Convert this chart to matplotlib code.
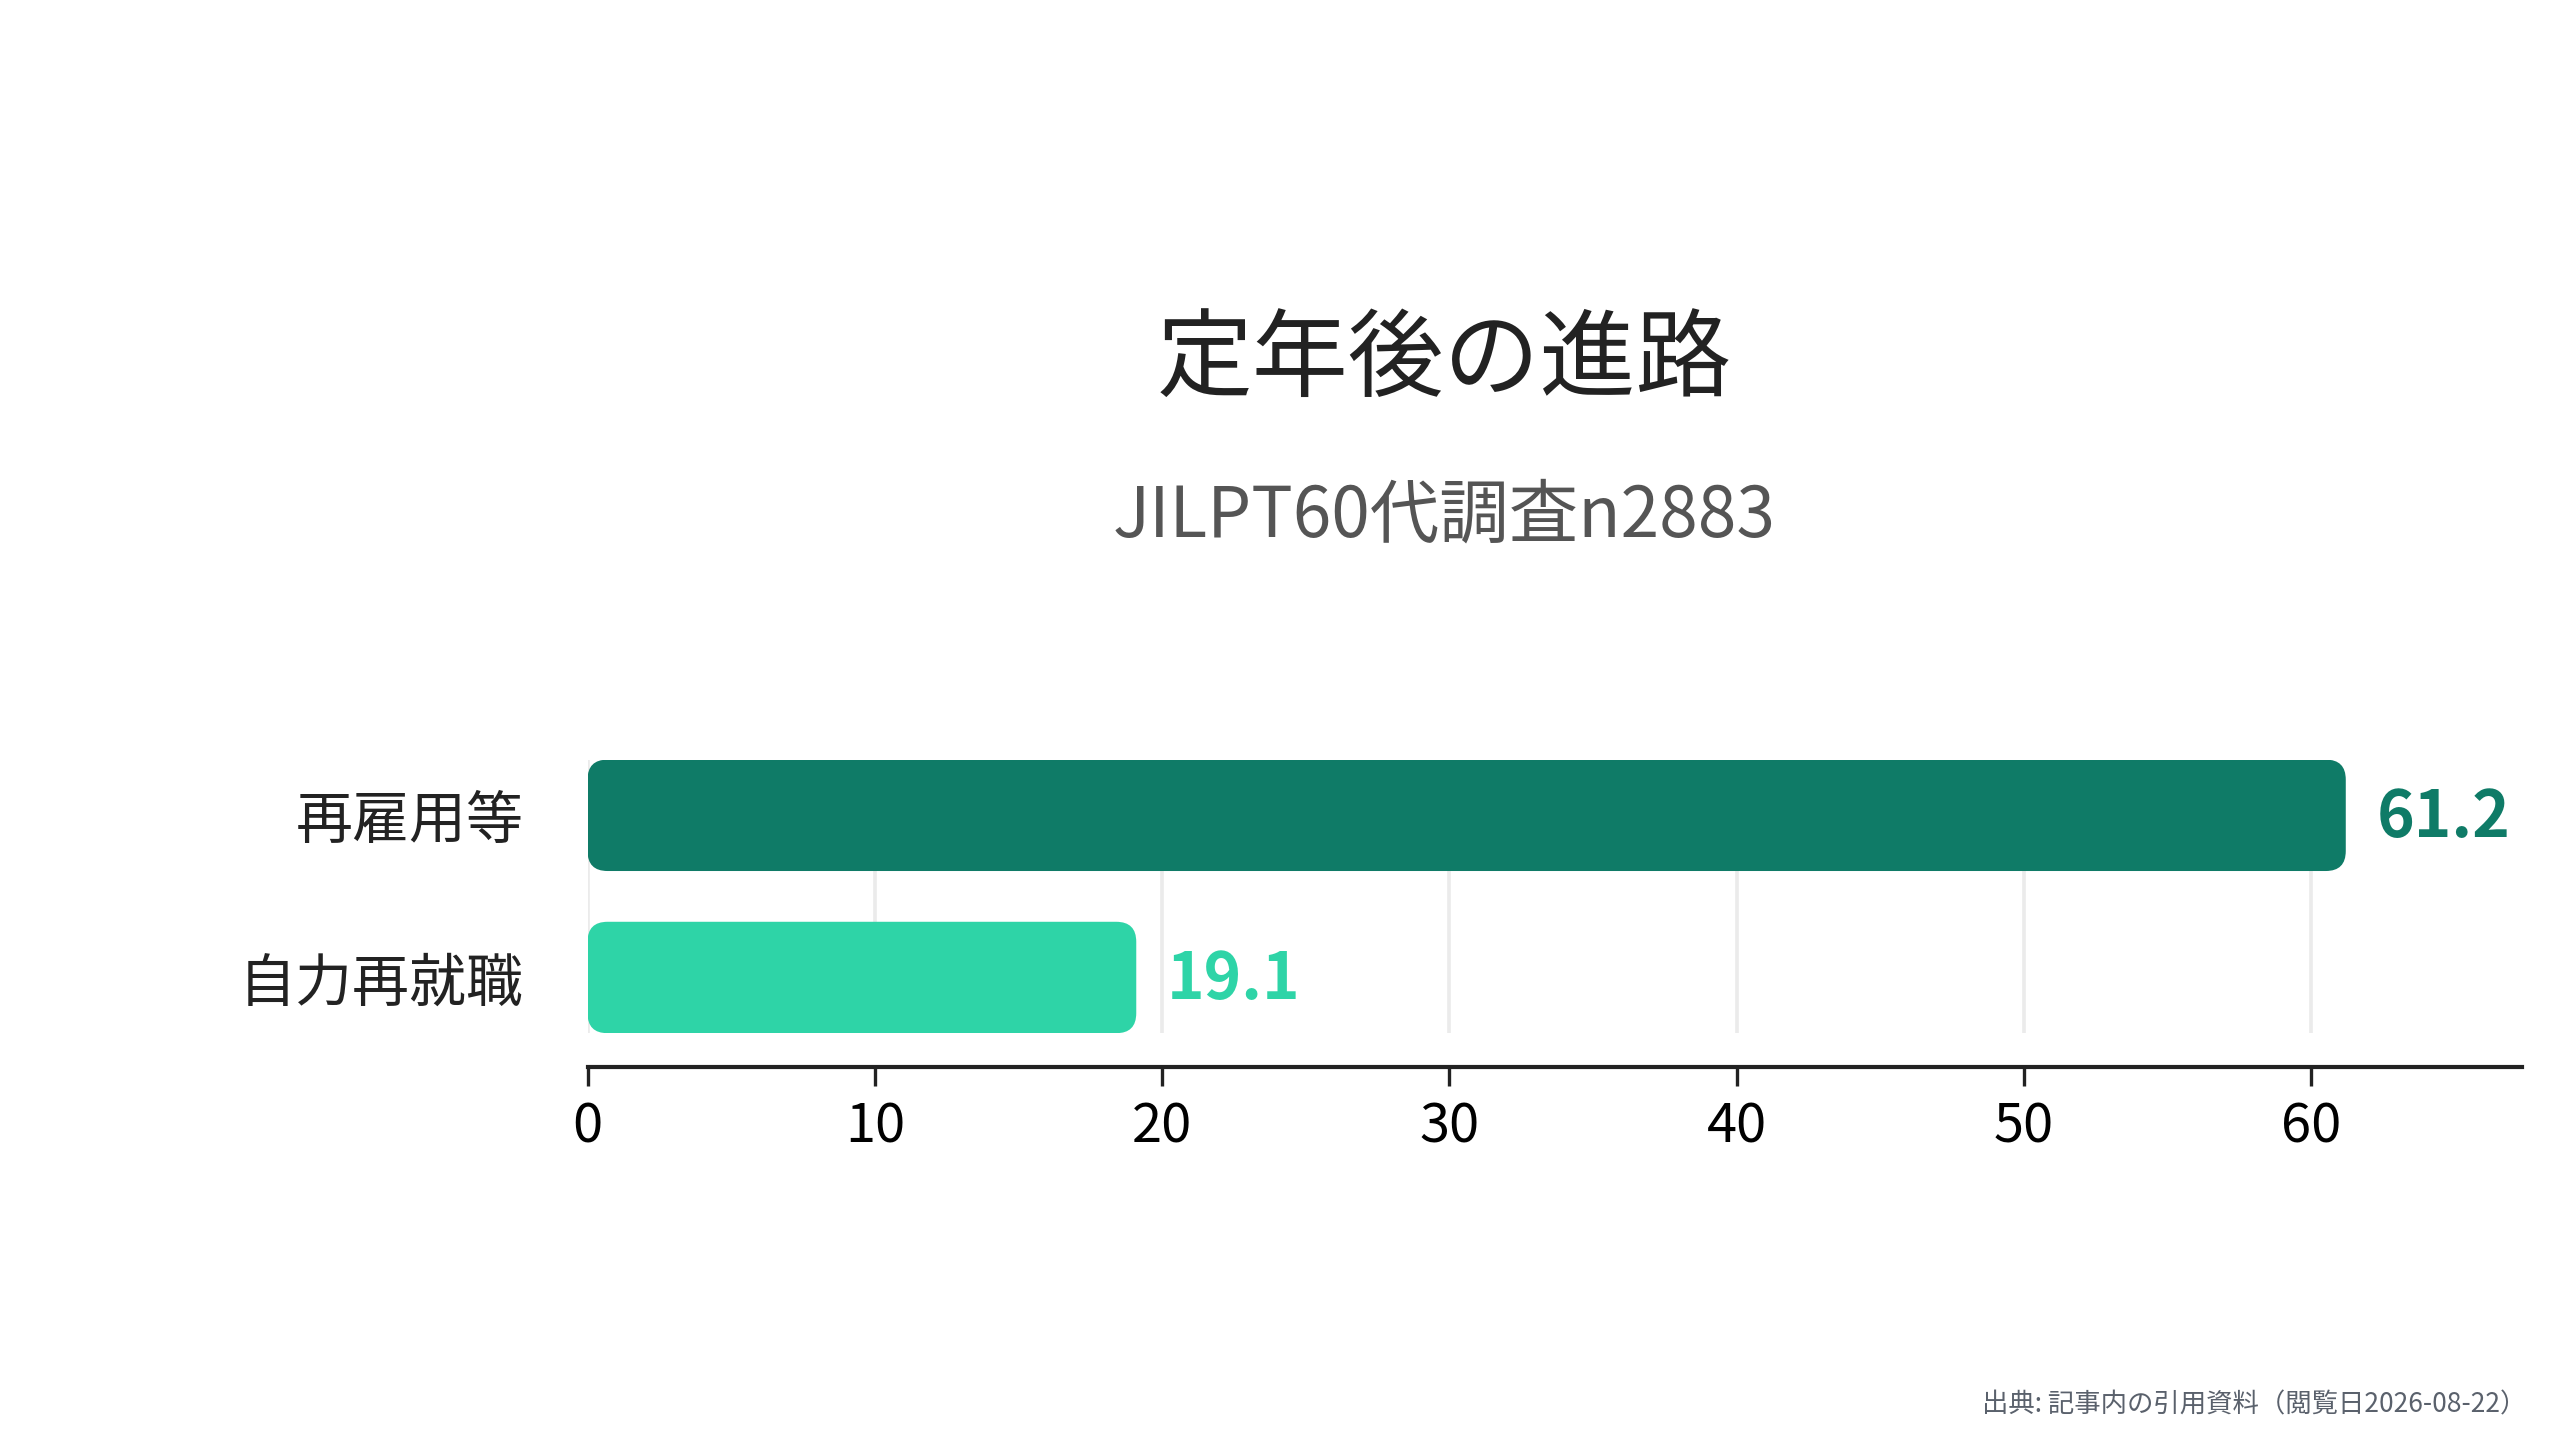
import matplotlib
matplotlib.use("Agg")
import matplotlib.pyplot as plt
from matplotlib.patches import FancyBboxPatch

plt.rcParams['font.family'] = ['Noto Sans CJK JP', 'DejaVu Sans']

# data
categories = ["再雇用等", "自力再就職"]
values = [61.2, 19.1]
bar_colors = ["#0f7b67", "#2ed4a7"]
xticks = [0, 10, 20, 30, 40, 50, 60]

title = "定年後の進路"
subtitle = "JILPT60代調査n2883"
source = "出典: 記事内の引用資料（閲覧日2026-08-22）"

fig = plt.figure(figsize=(12.8, 7.2), dpi=200)
ax = fig.add_axes([0.2295, 0.2825, 0.985 - 0.2295, 0.4725 - 0.2825])

ypos = list(range(len(categories)))
bars = ax.barh(ypos, values, height=0.687, color=bar_colors, zorder=3)

ax.set_xlim(0, max(values) * 1.1)
ax.set_ylim(1.3435, -0.3435)

# swap plain bars for rounded ones
fig.canvas.draw()
x_per_px = (ax.get_xlim()[1] - ax.get_xlim()[0]) / ax.bbox.width
y_per_px = abs(ax.get_ylim()[1] - ax.get_ylim()[0]) / ax.bbox.height
radius_px = 20
for b in bars:
    x, y = b.get_x(), b.get_y()
    w, h = b.get_width(), b.get_height()
    b.set_visible(False)
    patch = FancyBboxPatch((x, y), w, h,
                           boxstyle=f"round,pad=0,rounding_size={radius_px * x_per_px}",
                           mutation_aspect=y_per_px / x_per_px,
                           facecolor=b.get_facecolor(), edgecolor="none", zorder=3)
    ax.add_patch(patch)

# value labels
for yy, v, c in zip(ypos, values, bar_colors):
    ax.annotate(f"{v}", xy=(v, yy), xytext=(11, -1), textcoords="offset points",
                ha="left", va="center", fontsize=23, fontweight="bold", color=c)

ax.set_yticks(ypos)
ax.set_yticklabels(categories, color="#222222")
ax.tick_params(axis="y", length=0, pad=23, labelsize=20.5)

ax.set_xticks(xticks)
ax.set_xticklabels([str(t) for t in xticks], color="#222222")
ax.tick_params(axis="x", length=7, width=1.2, color="#222222", pad=5, labelsize=19.5)

ax.grid(axis="x", color="#ebebeb", linewidth=1.3, zorder=0)
ax.set_axisbelow(True)

for s in ["top", "right", "left"]:
    ax.spines[s].set_visible(False)
ax.spines["bottom"].set_position(("outward", 12))
ax.spines["bottom"].set_color("#222222")
ax.spines["bottom"].set_linewidth(1.5)

fig.text(0.564, 0.749, title, ha="center", va="center", fontsize=34.5, color="#222222")
fig.text(0.564, 0.641, subtitle, ha="center", va="center", fontsize=25, color="#555555")
fig.text(0.987, 0.024, source, ha="right", va="center", fontsize=9.5, color="#5a616c")

fig.savefig("out.png", dpi=200, facecolor="white")
